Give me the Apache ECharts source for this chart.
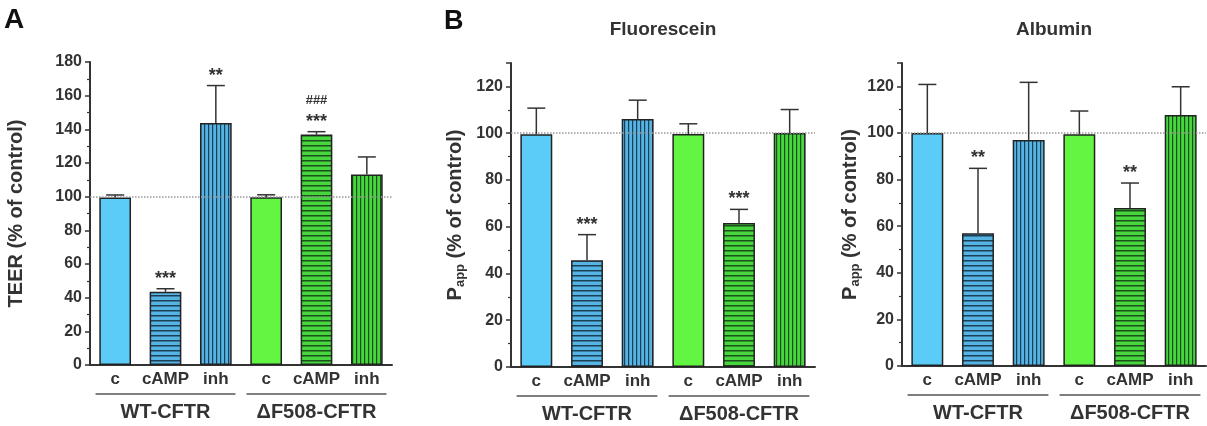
<!DOCTYPE html>
<html>
<head>
<meta charset="utf-8">
<script src="https://cdn.jsdelivr.net/npm/echarts@6/dist/echarts.min.js"></script>
<style>
  html, body { margin: 0; padding: 0; background: #fff; }
  #main { width: 1207px; height: 426px; }
</style>
</head>
<body>
<div id="main"></div>
<script>
// categories
const groups = ['WT-CFTR', 'ΔF508-CFTR']
const conditions = ['c', 'cAMP', 'inh', 'c', 'cAMP', 'inh']

// panel A: TEER
const teerMean = [99.5, 43.5, 143.8, 99.6, 136.9, 113.2]
const teerErr = [1.5, 1.8, 22.2, 1.5, 1.7, 10.4]
const teerSig = ['', '***', '**', '', '***', '']
const teerHash = ['', '', '', '', '###', '']

// panel B: fluorescein Papp
const fluoMean = [99.5, 45.6, 106.1, 99.6, 61.6, 100.1]
const fluoErr = [11.2, 11.0, 8.0, 4.4, 5.8, 10.0]
const fluoSig = ['', '***', '', '', '***', '']

// panel C: albumin Papp
const albMean = [100.0, 57.0, 97.0, 99.4, 67.8, 107.7]
const albErr = [20.8, 27.8, 24.7, 10.0, 10.7, 12.1]
const albSig = ['', '**', '', '', '**', '']

const axisColor = '#333'
const font = 'Liberation Sans, Arial, sans-serif'

function stripes(bg, fg, vertical, period, lw) {
  const c = document.createElement('canvas')
  c.width = vertical ? period : 8
  c.height = vertical ? 8 : period
  const ctx = c.getContext('2d')
  ctx.fillStyle = bg
  ctx.fillRect(0, 0, c.width, c.height)
  ctx.fillStyle = fg
  if (vertical) ctx.fillRect(0, 0, lw, c.height)
  else ctx.fillRect(0, 0, c.width, lw)
  return { image: c, repeat: 'repeat' }
}

const fills = [
  '#5BCBF7',
  stripes('#55B4E4', '#1D3F55', false, 5, 1.5),
  stripes('#55B4E4', '#1D3F55', true, 4, 1.2),
  '#62F542',
  stripes('#48D63E', '#1B4F1B', false, 5, 1.5),
  stripes('#48D63E', '#1B4F1B', true, 4, 1.2)
]

function barSeries(values, axis) {
  return {
    type: 'bar',
    xAxisIndex: axis * 2,
    yAxisIndex: axis,
    barWidth: '63%',
    data: values.map((v, i) => ({
      value: v,
      itemStyle: { color: fills[i], borderColor: '#222', borderWidth: 1.5 }
    })),
    markLine: {
      silent: true,
      symbol: 'none',
      label: { show: false },
      lineStyle: { color: '#999', type: 'dotted', width: 1.5 },
      data: [{ yAxis: 100 }]
    },
    z: 2
  }
}

function errSeries(mean, err, sig, hash, axis) {
  return {
    type: 'custom',
    xAxisIndex: axis * 2,
    yAxisIndex: axis,
    z: 5,
    data: mean.map((m, i) => [i, m, err[i]]),
    renderItem(params, api) {
      const i = api.value(0)
      const base = api.coord([i, api.value(1)])
      const top = api.coord([i, api.value(1) + api.value(2)])
      const half = 9
      const style = { stroke: '#333', lineWidth: 1.5 }
      const children = [
        { type: 'line', shape: { x1: base[0], y1: base[1], x2: top[0], y2: top[1] }, style },
        { type: 'line', shape: { x1: top[0] - half, y1: top[1], x2: top[0] + half, y2: top[1] }, style }
      ]
      const s = sig[params.dataIndex]
      if (s) {
        children.push({
          type: 'text',
          style: {
            text: s, x: top[0], y: top[1] - 1,
            align: 'center', verticalAlign: 'bottom',
            font: 'bold 18px ' + font, fill: '#333'
          }
        })
      }
      const h = hash && hash[params.dataIndex]
      if (h) {
        children.push({
          type: 'text',
          style: {
            text: h, x: top[0], y: top[1] - 25,
            align: 'center', verticalAlign: 'bottom',
            font: 'bold 13px ' + font, fill: '#333'
          }
        })
      }
      return { type: 'group', children }
    }
  }
}

function xAxes(grid) {
  return [
    {
      type: 'category',
      gridIndex: grid,
      data: conditions,
      axisLine: { lineStyle: { color: axisColor, width: 2 } },
      axisTick: { alignWithLabel: true, length: 4, lineStyle: { color: axisColor, width: 1.5 } },
      axisLabel: { color: axisColor, fontSize: 17, fontWeight: 'bold', fontFamily: font, margin: 6, interval: 0 }
    },
    {
      type: 'category',
      gridIndex: grid,
      position: 'bottom',
      offset: 30,
      data: groups,
      axisLine: { show: false },
      axisTick: { show: false },
      axisLabel: { color: axisColor, fontSize: 20, fontWeight: 'bold', fontFamily: font, margin: 7, interval: 0, hideOverlap: false }
    }
  ]
}

function yAxis(grid, max, name, gap, rich) {
  return {
    type: 'value',
    gridIndex: grid,
    min: 0,
    max: max,
    interval: 20,
    name: name,
    nameLocation: 'middle',
    nameGap: gap,
    nameTextStyle: rich
      ? { rich }
      : { color: axisColor, fontSize: 20, fontWeight: 'bold', fontFamily: font },
    splitLine: { show: false },
    axisLine: { show: true, lineStyle: { color: axisColor, width: 2 } },
    axisTick: { show: true, length: 5, lineStyle: { color: axisColor, width: 1.5 } },
    minorTick: { show: true, splitNumber: 2, length: 3, lineStyle: { color: axisColor, width: 1.2 } },
    axisLabel: { color: axisColor, fontSize: 16, fontWeight: 'bold', fontFamily: font, margin: 8, showMaxLabel: max % 20 === 0 }
  }
}

const pRich = {
  m: { color: axisColor, fontSize: 20, fontWeight: 'bold', fontFamily: font, lineHeight: 24 },
  s: { color: axisColor, fontSize: 13, fontWeight: 'bold', fontFamily: font, lineHeight: 13, verticalAlign: 'bottom' }
}
const pName = '{m|P}{s|app}{m| (% of control)}'

const chart = echarts.init(document.getElementById('main'))
chart.setOption({
  animation: false,
  backgroundColor: '#fff',
  grid: [
    { left: 90, top: 62, width: 302, height: 303 },
    { left: 511, top: 63, width: 304, height: 304 },
    { left: 902, top: 63, width: 304, height: 303 }
  ],
  xAxis: [].concat(xAxes(0), xAxes(1), xAxes(2)),
  yAxis: [
    yAxis(0, 180, 'TEER (% of control)', 64),
    yAxis(1, 130, pName, 44, pRich),
    yAxis(2, 130, pName, 40, pRich)
  ],
  series: [
    barSeries(teerMean, 0),
    errSeries(teerMean, teerErr, teerSig, teerHash, 0),
    barSeries(fluoMean, 1),
    errSeries(fluoMean, fluoErr, fluoSig, null, 1),
    barSeries(albMean, 2),
    errSeries(albMean, albErr, albSig, null, 2)
  ]
})

// panel letters, titles and group underlines
const graphics = [
  { type: 'text', left: 4, top: 6, style: { text: 'A', font: 'bold 28px ' + font, fill: '#111' } },
  { type: 'text', left: 444, top: 8, style: { text: 'B', font: 'bold 27px ' + font, fill: '#111' } }
]
const titles = [['Fluorescein', 3], ['Albumin', 5]]
titles.forEach(([t, ax]) => {
  const cx = (chart.convertToPixel({ xAxisIndex: ax }, 0) + chart.convertToPixel({ xAxisIndex: ax }, 1)) / 2
  graphics.push({
    type: 'text', x: cx, y: 30,
    style: { text: t, font: 'bold 19px ' + font, fill: '#333', align: 'center', verticalAlign: 'middle' }
  })
})
;[0, 2, 4].forEach((ax) => {
  const catW = chart.convertToPixel({ xAxisIndex: ax }, 1) - chart.convertToPixel({ xAxisIndex: ax }, 0)
  const y = chart.convertToPixel({ yAxisIndex: ax / 2 }, 0) + 29
  groups.forEach((g, k) => {
    const cx = chart.convertToPixel({ xAxisIndex: ax + 1 }, k)
    graphics.push({
      type: 'line',
      shape: { x1: cx - 1.39 * catW, y1: y, x2: cx + 1.39 * catW, y2: y },
      style: { stroke: '#555', lineWidth: 1.5 }
    })
  })
})
chart.setOption({ graphic: graphics })
</script>
</body>
</html>
